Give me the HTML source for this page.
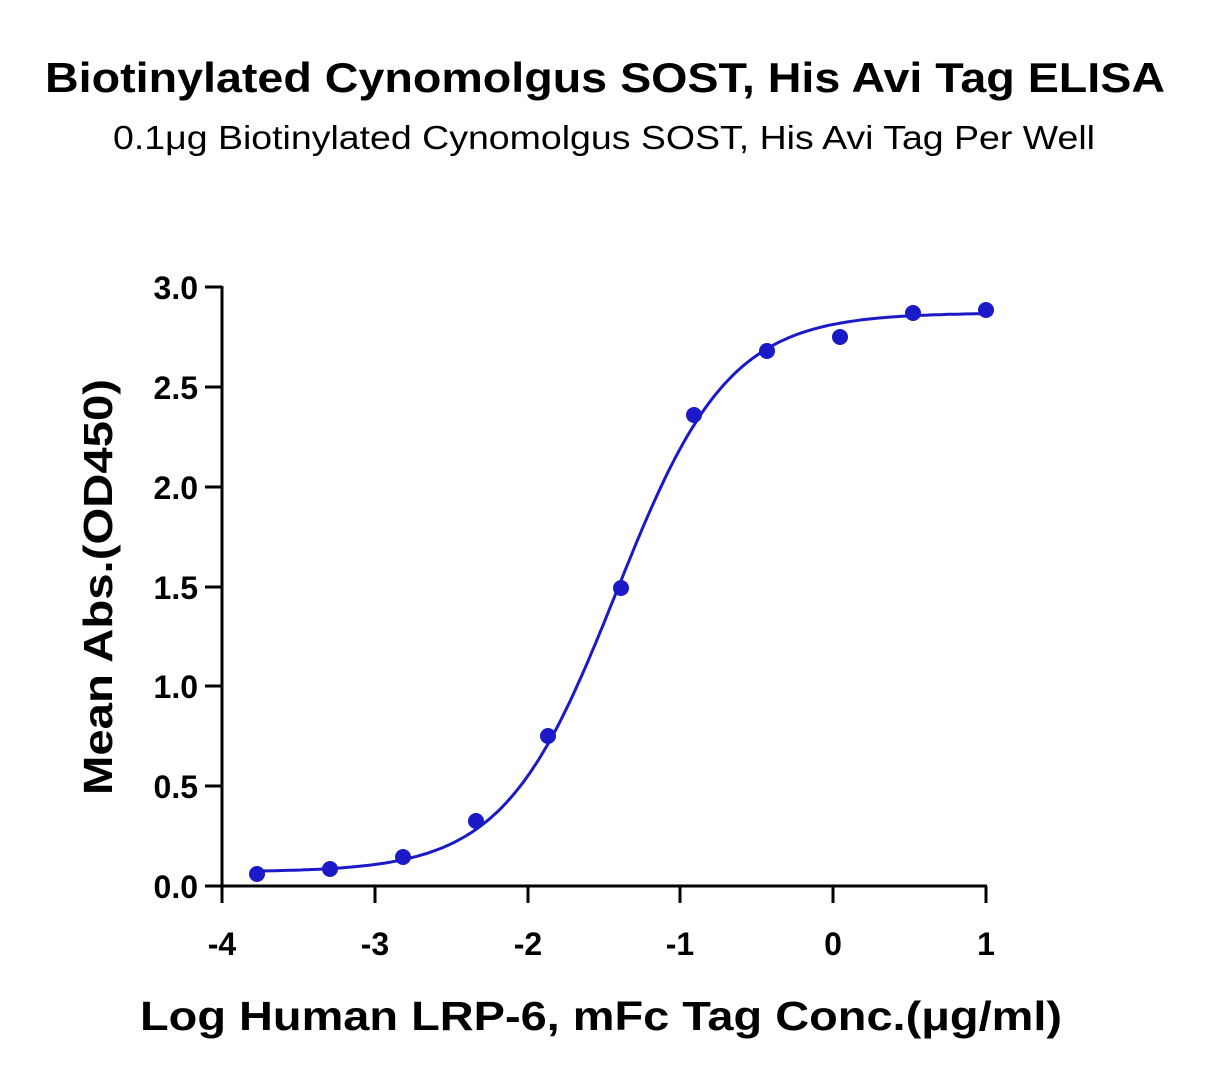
<!DOCTYPE html>
<html><head><meta charset="utf-8"><style>
body{margin:0;background:#fff;}
svg text{font-family:"Liberation Sans",sans-serif;}
</style></head><body>
<svg id="s" width="1209" height="1086" viewBox="0 0 1209 1086" xmlns="http://www.w3.org/2000/svg">
<text x="45" y="92" textLength="1120" lengthAdjust="spacingAndGlyphs" font-size="42" font-weight="bold" fill="#000">Biotinylated Cynomolgus SOST, His Avi Tag ELISA</text>
<text x="113" y="149" textLength="982" lengthAdjust="spacingAndGlyphs" font-size="33" fill="#000">0.1μg Biotinylated Cynomolgus SOST, His Avi Tag Per Well</text>
<g stroke="#000" stroke-width="3" fill="none">
<line x1="222" y1="286" x2="222" y2="887"/>
<line x1="221" y1="886" x2="987" y2="886"/>
<line x1="205" y1="287" x2="222" y2="287"/>
<line x1="205" y1="387" x2="222" y2="387"/>
<line x1="205" y1="487" x2="222" y2="487"/>
<line x1="205" y1="587" x2="222" y2="587"/>
<line x1="205" y1="686" x2="222" y2="686"/>
<line x1="205" y1="786" x2="222" y2="786"/>
<line x1="205" y1="886" x2="222" y2="886"/>
<line x1="222" y1="886" x2="222" y2="903"/>
<line x1="375" y1="886" x2="375" y2="903"/>
<line x1="528" y1="886" x2="528" y2="903"/>
<line x1="680" y1="886" x2="680" y2="903"/>
<line x1="833" y1="886" x2="833" y2="903"/>
<line x1="986" y1="886" x2="986" y2="903"/>
</g>
<g font-size="32" font-weight="bold" text-anchor="end">
<text x="198" y="299">3.0</text><text x="198" y="399">2.5</text><text x="198" y="499">2.0</text>
<text x="198" y="599">1.5</text><text x="198" y="698">1.0</text><text x="198" y="798">0.5</text><text x="198" y="898">0.0</text>
</g>
<g font-size="32" font-weight="bold" text-anchor="middle">
<text x="222" y="955">-4</text><text x="375" y="955">-3</text><text x="528" y="955">-2</text>
<text x="680" y="955">-1</text><text x="833" y="955">0</text><text x="986" y="955">1</text>
</g>
<text x="140" y="1030" textLength="922" lengthAdjust="spacingAndGlyphs" font-size="41" font-weight="bold">Log Human LRP-6, mFc Tag Conc.(μg/ml)</text>
<text transform="translate(112,587) rotate(-90)" text-anchor="middle" textLength="416" lengthAdjust="spacingAndGlyphs" font-size="41" font-weight="bold">Mean Abs.(OD450)</text>
<path id="c" fill="none" stroke="#1a1ac8" stroke-width="3"/>
<g fill="#1a1ac8">
<circle cx="257" cy="874" r="8"/><circle cx="330" cy="869" r="8"/><circle cx="403" cy="857" r="8"/>
<circle cx="476" cy="821" r="8"/><circle cx="548" cy="736" r="8"/><circle cx="621" cy="588" r="8"/>
<circle cx="694" cy="415" r="8"/><circle cx="767" cy="351" r="8"/><circle cx="840" cy="337" r="8"/>
<circle cx="913" cy="313" r="8"/><circle cx="986" cy="310" r="8"/>
</g>
</svg>
<script>
var d="";for(var i=0;i<=200;i++){var x=-3.77+i*(4.77/200);var y=0.07+(2.8)/(1+Math.pow(10,(-1.42-x)*1.18));
var px=222+(x+4)*152.8,py=886-y*199.7;d+=(i?"L":"M")+px.toFixed(1)+","+py.toFixed(1);}
document.getElementById("c").setAttribute("d",d);
</script>
</body></html>
